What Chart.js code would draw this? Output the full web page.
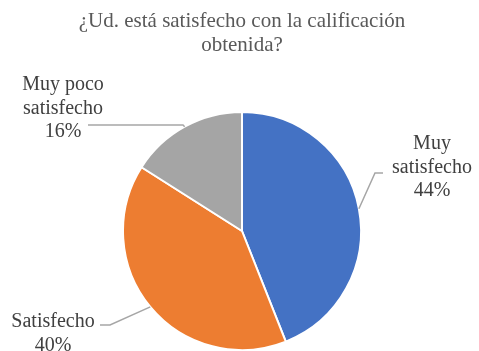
<!DOCTYPE html>
<html>
<head>
<meta charset="utf-8">
<script src="https://cdn.jsdelivr.net/npm/chart.js@4/dist/chart.umd.min.js"></script>
<style>
  html, body { margin: 0; padding: 0; background: #fff; }
  #wrap { width: 479px; height: 351px; }
  #fontwarm { position: absolute; left: 0; top: 0; opacity: 0; font: 20px "Liberation Serif"; pointer-events: none; }
</style>
</head>
<body>
<span id="fontwarm">¿Ud. está satisfecho 0123456789%</span>
<div id="wrap"><canvas id="pie"></canvas></div>
<script>
// ---- data ----
const categories = ["Muy satisfecho", "Satisfecho", "Muy poco satisfecho"];
const values = [44, 40, 16];
const sliceColors = ["#4472C4", "#ED7D31", "#A5A5A5"];
const titleLines = ["¿Ud. está satisfecho con la calificación", "obtenida?"];

// where each outside label sits, and how its leader line bends
const labelLayout = [
    { lines: ["Muy", "satisfecho"], x: 432, y: 149, elbow: [375, 173], end: [383, 173] },
    { lines: ["Satisfecho"], x: 53, y: 327, elbow: [110, 325], end: [100, 325] },
    { lines: ["Muy poco", "satisfecho"], x: 63, y: 90, elbow: [183, 125], end: [88, 125] }
];

const serif = '"Liberation Serif", serif';

// title drawn at the top of the canvas
const titlePlugin = {
    id: "topTitle",
    afterDraw(chart) {
        const ctx = chart.ctx;
        ctx.save();
        ctx.fillStyle = "#595959";
        ctx.font = "21px " + serif;
        ctx.textAlign = "center";
        ctx.textBaseline = "alphabetic";
        titleLines.forEach((t, i) => ctx.fillText(t, 242, 27 + i * 24));
        ctx.restore();
    }
};

// outside labels with leader lines from the middle of each slice's arc
const outsideLabels = {
    id: "outsideLabels",
    afterDraw(chart) {
        const ctx = chart.ctx;
        const meta = chart.getDatasetMeta(0);
        ctx.save();
        meta.data.forEach((arc, i) => {
            const p = arc.getProps(["x", "y", "startAngle", "endAngle", "outerRadius"], true);
            const mid = (p.startAngle + p.endAngle) / 2;
            const ax = p.x + Math.cos(mid) * p.outerRadius;
            const ay = p.y + Math.sin(mid) * p.outerRadius;
            const lay = labelLayout[i];

            ctx.strokeStyle = "#A6A6A6";
            ctx.lineWidth = 1.5;
            ctx.beginPath();
            ctx.moveTo(ax, ay);
            ctx.lineTo(lay.elbow[0], lay.elbow[1]);
            ctx.lineTo(lay.end[0], lay.end[1]);
            ctx.stroke();

            ctx.fillStyle = "#404040";
            ctx.font = "20px " + serif;
            ctx.textAlign = "center";
            ctx.textBaseline = "alphabetic";
            const lines = lay.lines.concat([values[i] + "%"]);
            lines.forEach((t, k) => ctx.fillText(t, lay.x, lay.y + k * 23.5));
        });
        ctx.restore();
    }
};

function buildChart() {
    new Chart(document.getElementById("pie"), {
        type: "pie",
        data: {
            labels: categories,
            datasets: [{
                data: values,
                backgroundColor: sliceColors,
                borderColor: "#ffffff",
                borderWidth: 2
            }]
        },
        options: {
            responsive: true,
            maintainAspectRatio: false,
            animation: false,
            layout: { padding: { top: 111, bottom: 0, left: 122, right: 117 } },
            plugins: {
                legend: { display: false },
                tooltip: { enabled: false },
                title: { display: false }
            }
        },
        plugins: [titlePlugin, outsideLabels]
    });
}

// make sure the serif face is ready before the canvas text is drawn
document.fonts.load('20px "Liberation Serif"').then(() => document.fonts.ready).then(buildChart, buildChart);
</script>
</body>
</html>
